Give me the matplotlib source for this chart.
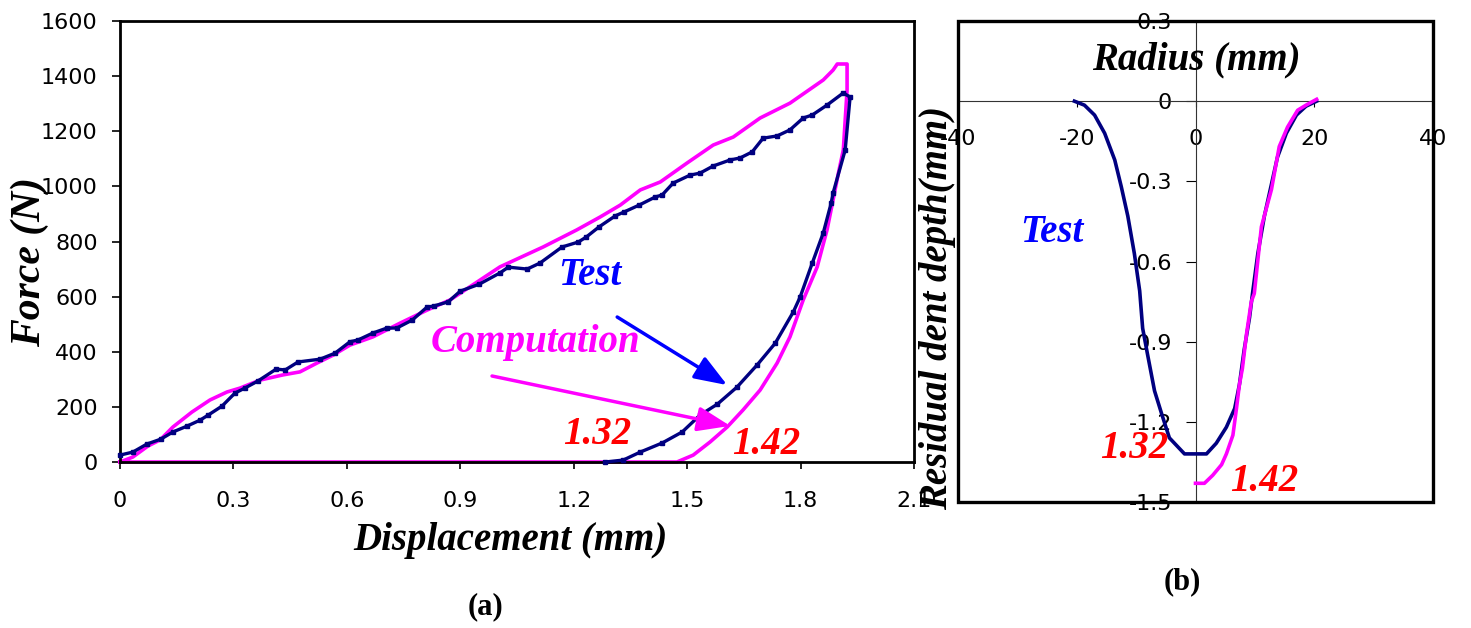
import matplotlib
matplotlib.use("Agg")
import matplotlib.pyplot as plt
from matplotlib.patches import Rectangle

plt.rcParams['axes.unicode_minus'] = False

# ---------------- data: panel (a) ----------------
test_disp = [0.0, 0.034, 0.071, 0.108, 0.14, 0.177, 0.212, 0.233, 0.27, 0.304, 0.33, 0.365,
             0.413, 0.437, 0.471, 0.529, 0.569, 0.608, 0.63, 0.669, 0.706, 0.732, 0.773,
             0.812, 0.83, 0.868, 0.9, 0.95, 1.005, 1.027, 1.077, 1.111, 1.169, 1.212, 1.233,
             1.267, 1.31, 1.333, 1.373, 1.415, 1.434, 1.463, 1.508, 1.534, 1.569, 1.614,
             1.64, 1.672, 1.701, 1.738, 1.772, 1.807, 1.831, 1.87, 1.913,
             1.931, 1.918, 1.886, 1.881, 1.86, 1.831, 1.799, 1.781, 1.733, 1.685, 1.632,
             1.58, 1.534, 1.487, 1.434, 1.376, 1.331, 1.283]
test_force = [25, 36, 65, 83, 109, 130, 152, 170, 203, 250, 268, 294,
              337, 334, 363, 373, 395, 436, 443, 468, 486, 486, 515,
              562, 566, 581, 620, 645, 686, 707, 700, 722, 780, 798, 816,
              853, 893, 907, 932, 961, 969, 1012, 1041, 1048, 1074, 1096,
              1103, 1125, 1175, 1183, 1205, 1248, 1259, 1295, 1339,
              1324, 1132, 976, 940, 831, 722, 599, 545, 431, 352, 272,
              210, 170, 109, 69, 36, 7, 0]

comp_disp = [0.0, 0.034, 0.074, 0.106, 0.14, 0.19, 0.238, 0.283, 0.317, 0.37, 0.431, 0.476,
             0.521, 0.564, 0.608, 0.669, 0.741, 0.812, 0.873, 1.005, 1.119, 1.208, 1.27,
             1.323, 1.376, 1.429, 1.5, 1.569, 1.622, 1.693, 1.772, 1.86, 1.886, 1.897,
             1.923, 1.923, 1.913, 1.9, 1.886, 1.87, 1.844, 1.807, 1.772, 1.738, 1.693,
             1.648, 1.606, 1.561, 1.516, 1.473, 0.0]
comp_force = [0, 18, 58, 80, 127, 181, 225, 254, 268, 297, 316, 327,
              359, 388, 424, 454, 504, 551, 588, 708, 780, 842, 889,
              932, 987, 1016, 1085, 1150, 1179, 1248, 1302, 1386, 1422, 1444,
              1444, 1350, 1132, 1048, 951, 842, 708, 588, 454, 359, 261,
              189, 127, 73, 25, 0, 0]

xticks_a = [0, 0.3, 0.6, 0.9, 1.2, 1.5, 1.8, 2.1]
xticklabels_a = ['0', '0.3', '0.6', '0.9', '1.2', '1.5', '1.8', '2.1']
yticks_a = [0, 200, 400, 600, 800, 1000, 1200, 1400, 1600]

# ---------------- data: panel (b) ----------------
test_radius = [-20.4, -18.7, -17.0, -15.3, -13.6, -12.5, -11.4, -10.3, -9.4, -8.9, -8.1,
               -6.9, -5.7, -4.4, -1.85, 1.85, 3.5, 5.2, 6.6, 7.4, 8.2, 9.1, 9.6, 10.5,
               11.6, 12.7, 13.8, 15.3, 17.0, 18.6, 20.4]
test_depth = [0.0, -0.015, -0.052, -0.12, -0.22, -0.32, -0.43, -0.57, -0.71, -0.85, -0.945,
              -1.084, -1.17, -1.26, -1.32, -1.32, -1.28, -1.22, -1.15, -1.06, -0.93, -0.81,
              -0.72, -0.57, -0.43, -0.32, -0.21, -0.12, -0.052, -0.019, 0.0]

comp_radius = [0.0, 1.5, 2.9, 4.4, 5.2, 6.3, 6.9, 7.4, 7.9, 8.6, 9.4, 9.9, 11.1, 12.8,
               14.1, 15.5, 17.2, 18.6, 20.4]
comp_depth = [-1.43, -1.43, -1.40, -1.36, -1.32, -1.25, -1.15, -1.06, -1.0, -0.87, -0.75,
              -0.72, -0.47, -0.33, -0.17, -0.097, -0.034, -0.015, 0.007]

xticks_b = [-40, -20, 0, 20, 40]
yticks_b = [0.3, 0, -0.3, -0.6, -0.9, -1.2, -1.5]
yticklabels_b = ['0.3', '0', '-0.3', '-0.6', '-0.9', '-1.2', '-1.5']

NAVY = '#000080'
MAG = '#FF00FF'
BLUE = '#0000FF'
RED = '#FF0000'
SERIF = 'Liberation Serif'
SANS = 'DejaVu Sans'
LBL = 28

W, H = 1471, 628
fig = plt.figure(figsize=(W / 100, H / 100), dpi=100)

def fx(px):
    return px / W

def fy(py):
    return 1 - py / H

# ---------------- panel (a) ----------------
ax = fig.add_axes([fx(120), fy(462), fx(914) - fx(120), fy(21) - fy(462)])
ax.plot(comp_disp, comp_force, color=MAG, lw=2.6, zorder=2, clip_on=False)
ax.plot(test_disp, test_force, color=NAVY, lw=2.4, marker='s', markersize=3.2,
        zorder=3, clip_on=False)
ax.set_xlim(0, 2.1)
ax.set_ylim(0, 1600)
ax.set_xticks(xticks_a)
ax.set_xticklabels(xticklabels_a)
ax.set_yticks(yticks_a)
for s in ax.spines.values():
    s.set_linewidth(2.0)
ax.tick_params(axis='y', direction='out', length=6, width=1.2, pad=10,
               labelsize=16)
ax.tick_params(axis='x', direction='out', length=5, width=1.2, pad=16,
               labelsize=16)
for lab in ax.get_xticklabels() + ax.get_yticklabels():
    lab.set_fontfamily(SANS)

ax.set_xlabel('Displacement (mm)', fontfamily=SERIF, fontweight='bold',
              fontstyle='italic', fontsize=LBL)
ax.xaxis.set_label_coords((510 - 120) / 794, -(522 - 462) / 441)
ax.set_ylabel('Force (N)', fontfamily=SERIF, fontweight='bold',
              fontstyle='italic', fontsize=30)
ax.yaxis.set_label_coords(-(120 - 49) / 794, (462 - 262) / 441)

ax.text(1.243, 678, 'Test', color=BLUE, fontfamily=SERIF, fontweight='bold',
        fontstyle='italic', fontsize=LBL, ha='center', va='center')
ax.text(1.098, 435, 'Computation', color=MAG, fontfamily=SERIF, fontweight='bold',
        fontstyle='italic', fontsize=LBL, ha='center', va='center')
ax.text(1.262, 98, '1.32', color=RED, fontfamily=SERIF, fontweight='bold',
        fontstyle='italic', fontsize=LBL, ha='center', va='center')
ax.text(1.709, 62, '1.42', color=RED, fontfamily=SERIF, fontweight='bold',
        fontstyle='italic', fontsize=LBL, ha='center', va='center')

ax.annotate('', xy=(1.606, 279), xytext=(1.315, 526),
            arrowprops=dict(arrowstyle='-|>,head_length=2.0,head_width=0.75',
                            color=BLUE, lw=2.5, shrinkA=0, shrinkB=0))
ax.annotate('', xy=(1.614, 131), xytext=(0.984, 312),
            arrowprops=dict(arrowstyle='-|>,head_length=2.0,head_width=0.75',
                            color=MAG, lw=2.5, shrinkA=0, shrinkB=0))

# ---------------- panel (b) ----------------
ax2 = fig.add_axes([fx(958), fy(502), fx(1433) - fx(958), fy(21) - fy(502)])
ax2.plot(test_radius, test_depth, color=NAVY, lw=2.6, zorder=3)
ax2.plot(comp_radius, comp_depth, color=MAG, lw=2.6, zorder=4)
ax2.set_xlim(-40, 40)
ax2.set_ylim(-1.5, 0.3)
ax2.spines['left'].set_position(('data', 0))
ax2.spines['bottom'].set_position(('data', 0))
ax2.spines['top'].set_visible(False)
ax2.spines['right'].set_visible(False)
ax2.spines['left'].set_linewidth(0.8)
ax2.spines['bottom'].set_linewidth(0.8)
ax2.spines['left'].set_color('#333333')
ax2.spines['bottom'].set_color('#333333')
ax2.add_patch(Rectangle((0, 0), 1, 1, transform=ax2.transAxes, fill=False,
                        lw=2.4, color='black', clip_on=False, zorder=5))
ax2.set_xticks(xticks_b)
ax2.set_yticks(yticks_b)
ax2.set_yticklabels(yticklabels_b)
ax2.tick_params(axis='y', direction='out', length=7, width=0.8, pad=10,
                labelsize=16)
ax2.tick_params(axis='x', direction='out', length=4, width=0.8, pad=16,
                labelsize=16)
for lab in ax2.get_xticklabels() + ax2.get_yticklabels():
    lab.set_fontfamily(SANS)

ax2.text(0.2, 0.154, 'Radius (mm)', color='black', fontfamily=SERIF,
         fontweight='bold', fontstyle='italic', fontsize=LBL, ha='center',
         va='center')
ax2.text(-24.25, -0.491, 'Test', color=BLUE, fontfamily=SERIF, fontweight='bold',
         fontstyle='italic', fontsize=LBL, ha='center', va='center')
ax2.text(-10.3, -1.30, '1.32', color=RED, fontfamily=SERIF, fontweight='bold',
         fontstyle='italic', fontsize=LBL, ha='center', va='center')
ax2.text(11.6, -1.425, '1.42', color=RED, fontfamily=SERIF, fontweight='bold',
         fontstyle='italic', fontsize=LBL, ha='center', va='center')

fig.text(fx(938), fy(308), 'Residual dent depth(mm)', rotation=90,
         fontfamily=SERIF, fontweight='bold', fontstyle='italic', fontsize=LBL,
         ha='center', va='center')

fig.text(fx(485), fy(607), '(a)', fontfamily=SERIF, fontweight='bold',
         fontsize=22, ha='center', va='center')
fig.text(fx(1182), fy(582), '(b)', fontfamily=SERIF, fontweight='bold',
         fontsize=22, ha='center', va='center')

fig.savefig('out.png', dpi=100)
